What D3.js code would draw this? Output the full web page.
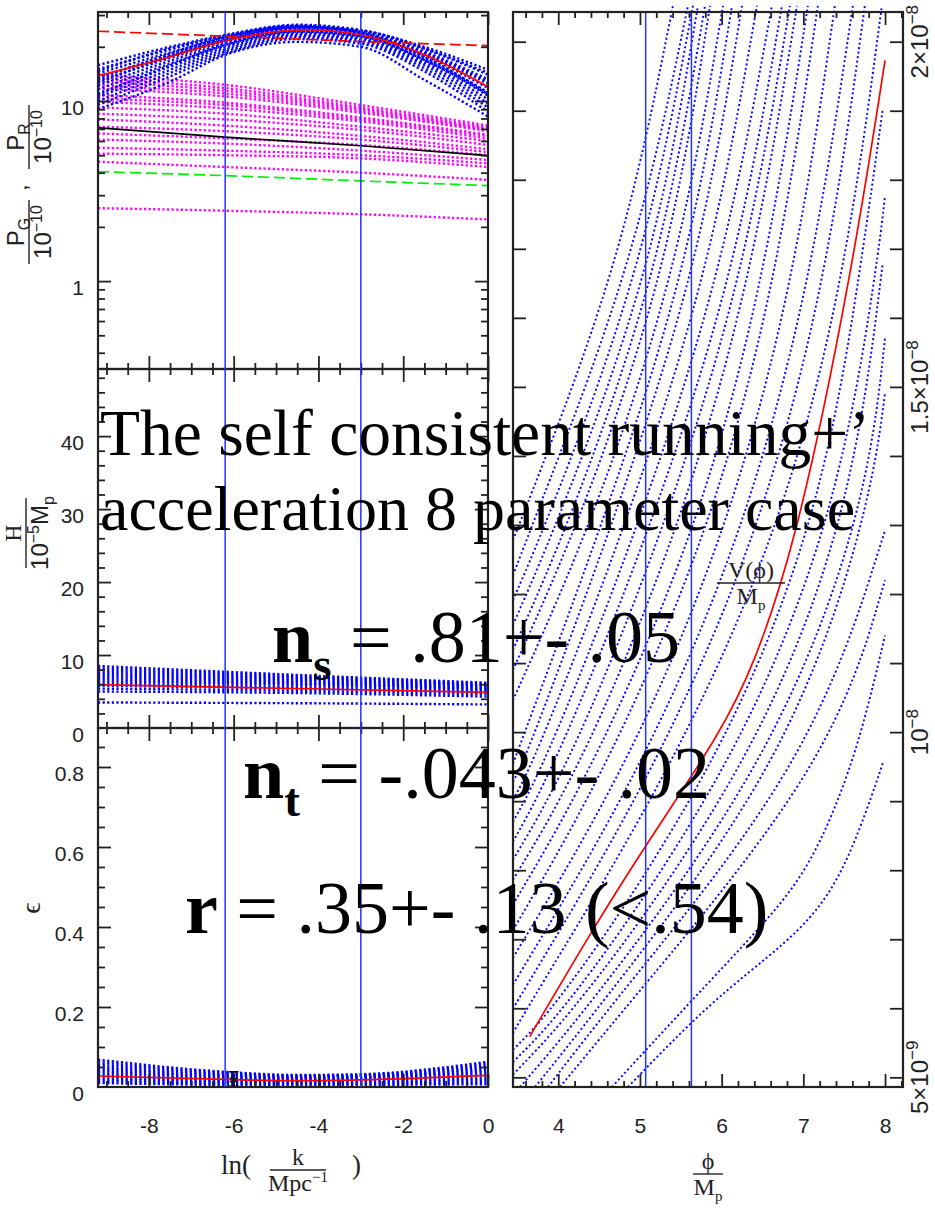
<!DOCTYPE html>
<html>
<head>
<meta charset="utf-8">
<script src="https://cdnjs.cloudflare.com/ajax/libs/d3/7.8.5/d3.min.js"></script>
<style>
  body { margin: 0; background: #fff; }
  svg { display: block; }
  .tick text { font-family: "Liberation Sans", Arial, sans-serif; font-size: 21px; fill: #222; }
</style>
</head>
<body>
<svg id="chart" width="935" height="1213"></svg>
<script>
// ---------------- data ----------------
const kMarks = [-6.2, -3.0];          // vertical lines, left column
const phiMarks = [5.07, 5.63];        // vertical lines, right panel

// top panel, P in units of 1e-10
const kP = [-9.2, -7.5, -6.2, -4.5, -3, -1.5, 0];
const prSamples = [
  [15.8, 20.0, 23.3, 26.5, 24.8, 20.0, 14.9],
  [15.0, 19.3, 22.8, 26.0, 24.5, 19.4, 14.0],
  [14.2, 18.6, 22.3, 25.6, 24.0, 18.8, 13.2],
  [13.5, 18.0, 21.8, 25.2, 23.7, 18.3, 12.5],
  [12.9, 17.3, 21.3, 24.8, 23.3, 17.8, 11.8],
  [12.2, 16.7, 20.8, 24.4, 23.0, 17.2, 11.2],
  [11.6, 16.1, 20.3, 24.0, 22.6, 16.8, 10.7],
  [11.0, 15.5, 19.8, 23.5, 22.2, 16.3, 10.2],
  [10.5, 14.9, 19.3, 23.1, 21.8, 15.8, 9.7],
  [10.0, 14.3, 18.8, 22.6, 21.3, 15.2, 9.2],
  [9.5, 13.7, 18.3, 22.1, 20.8, 14.6, 8.7],
  [9.0, 12.8, 18.0, 21.3, 20.0, 13.1, 8.2],
  [14.6, 19.6, 23.0, 26.2, 24.2, 18.6, 12.8],
  [12.6, 17.7, 21.8, 25.6, 24.6, 19.6, 14.3],
  [13.2, 18.3, 22.6, 25.9, 23.9, 17.6, 11.0],
  [10.8, 15.8, 20.5, 24.3, 22.9, 16.9, 10.9]
];
const kPbest = [-9.2, -7.5, -6.2, -4.3, -3, -1.5, 0];
const prBest = [13.8, 17.6, 21.6, 24.8, 23.3, 18.1, 12.0];
const kG = [-9.2, -6.2, -3, 0];
const pgSamples = [
  [13.9, 12.3, 9.5, 7.3],
  [13.3, 11.8, 9.2, 7.1],
  [12.8, 11.4, 9.0, 7.0],
  [12.2, 11.0, 8.8, 6.9],
  [11.7, 10.6, 8.6, 6.8],
  [10.8, 9.8, 8.1, 6.5],
  [10.3, 9.5, 7.9, 6.4],
  [9.9, 9.1, 7.7, 6.2],
  [9.2, 8.5, 7.2, 6.0],
  [8.5, 7.9, 6.9, 5.7],
  [7.9, 7.3, 6.4, 5.4],
  [7.2, 6.8, 6.1, 5.2],
  [6.6, 6.2, 5.7, 5.0],
  [6.1, 5.8, 5.3, 4.7],
  [5.5, 5.3, 5.0, 4.5],
  [5.1, 5.0, 4.8, 4.3],
  [4.6, 4.3, 4.0, 3.65],
  [2.54, 2.46, 2.35, 2.2]
];
const pgBlack = [7.1, 6.3, 5.64, 4.97];
const pgGreen = [4.05, 3.85, 3.6, 3.39];
const kDash = [-9.2, -6.2, -4.3, -3, 0];
const prDash = [24.4, 22.9, 22.0, 21.4, 20.3];

// middle panel, H in units of 1e-5 Mp
const kH = [-9.2, -4.6, 0];
const hSamples = [
  [8.5, 7.3, 6.2], [8.2, 7.1, 6.05], [7.9, 6.9, 5.9], [7.6, 6.7, 5.8],
  [7.3, 6.5, 5.65], [7.0, 6.3, 5.5], [6.7, 6.1, 5.35], [6.4, 5.9, 5.2],
  [6.1, 5.6, 5.0], [5.8, 5.4, 4.85], [5.4, 5.1, 4.6], [5.0, 4.8, 4.3],
  [3.5, 3.4, 3.23]
];
const hBest = [5.95, 5.41, 4.87];

// bottom panel, epsilon
const kE = [-9.2, -6.2, -4.5, -3, 0];
const epsSamples = [
  [0.068, 0.038, 0.030, 0.032, 0.063],
  [0.062, 0.035, 0.028, 0.030, 0.058],
  [0.056, 0.032, 0.026, 0.028, 0.053],
  [0.050, 0.029, 0.024, 0.026, 0.048],
  [0.045, 0.026, 0.022, 0.024, 0.043],
  [0.040, 0.023, 0.020, 0.022, 0.038],
  [0.035, 0.020, 0.018, 0.020, 0.033],
  [0.030, 0.017, 0.015, 0.017, 0.028],
  [0.025, 0.014, 0.012, 0.014, 0.022],
  [0.020, 0.011, 0.010, 0.011, 0.017],
  [0.015, 0.008, 0.007, 0.008, 0.012],
  [0.010, 0.005, 0.004, 0.005, 0.007]
];
const epsBest = [0.0275, 0.019, 0.016, 0.018, 0.029];
const errPoint = {k: -6, eps: 0.0175, lo: 0.002, hi: 0.038};

// right panel, V(phi) in units of 1e-9, points [phi, V]
const vSamples = [
  [[3.445,12.78],[3.592,13.21],[4.780,16.83],[5.404,20.52]],
  [[3.445,12.27],[3.751,13.21],[4.939,16.83],[5.588,20.52]],
  [[3.445,11.91],[3.923,13.21],[5.061,16.83],[5.649,20.52]],
  [[3.445,11.55],[4.058,13.21],[5.183,16.83],[5.710,20.52]],
  [[3.445,11.19],[4.204,13.21],[5.269,16.83],[5.796,20.52]],
  [[3.445,10.90],[4.327,13.21],[5.367,16.83],[5.857,20.52]],
  [[3.445,10.46],[4.486,13.21],[5.489,16.83],[6.017,20.52]],
  [[3.445,9.54],[4.608,13.21],[5.612,16.83],[6.127,20.52]],
  [[3.445,9.28],[3.592,9.59],[4.731,13.21],[5.734,16.83],[6.249,20.52]],
  [[3.445,9.02],[3.715,9.59],[4.902,13.21],[5.881,16.83],[6.432,20.52]],
  [[3.445,8.70],[3.862,9.59],[5.061,13.21],[6.041,16.83],[6.616,20.52]],
  [[3.445,8.41],[3.996,9.59],[5.220,13.21],[6.200,16.83],[6.738,20.52]],
  [[3.445,8.15],[4.168,9.59],[5.392,13.21],[6.310,16.83],[6.836,20.52]],
  [[3.445,7.86],[4.327,9.59],[5.575,13.21],[6.408,16.83],[6.922,20.52]],
  [[3.445,7.50],[4.486,9.59],[5.796,13.21],[6.567,16.83],[7.056,20.52]],
  [[3.445,7.13],[4.657,9.59],[5.955,13.21],[6.714,16.83],[7.178,20.52]],
  [[3.445,6.73],[4.902,9.59],[6.164,13.21],[6.934,16.83],[7.386,20.52]],
  [[3.445,6.34],[5.098,9.59],[6.371,13.21],[7.141,16.83],[7.606,20.52]],
  [[3.445,5.99],[3.507,6.12],[5.269,9.59],[6.567,13.21],[7.324,16.83],[7.753,20.52]],
  [[3.445,5.64],[3.678,6.12],[5.465,9.59],[6.812,13.21],[7.545,16.83],[7.961,20.52]],
  [[3.445,5.40],[4.058,6.12],[6.004,9.59],[7.227,13.21],[7.716,16.83],[7.973,19.03]],
  [[3.445,5.22],[4.204,6.12],[6.200,9.59],[7.423,13.21],[7.912,16.83],[8.0,17.77]],
  [[3.445,5.04],[4.327,6.12],[6.408,9.59],[7.594,13.21],[7.973,16.80]],
  [[3.531,4.86],[4.449,6.12],[6.616,9.59],[7.765,13.21],[8.0,15.70]],
  [[3.715,4.86],[4.572,6.12],[6.812,9.59],[7.81,13.21],[8.0,14.91]],
  [[3.874,4.86],[4.694,6.12],[7.104,9.59],[8.0,12.92]],
  [[4.021,4.86],[4.902,6.12],[7.349,9.59],[8.0,12.20]],
  [[4.657,4.86],[5.637,6.12],[6.444,7.13],[7.0,7.9],[7.40,8.9],[7.72,10.0],[8.0,11.40]],
  [[4.853,4.86],[5.881,6.12],[6.812,6.95],[7.349,7.65],[7.70,8.6],[7.973,9.55]]
];
const vBest = [[3.65,5.59],[4.49,7.28],[5.06,8.34],[5.79,9.64],[6.28,10.61],[6.90,12.63],[7.60,16.69],[8.0,19.73]];

// tick values
const kMajor = [-8, -6, -4, -2, 0];
const kMinor = d3.range(-9, 0.01, 0.5).filter(d => d % 2 !== 0);
const pMajor = [1, 10];
const pMinor = [0.4, 0.5, 0.6, 0.7, 0.8, 0.9, 2, 3, 4, 5, 6, 7, 8, 9, 20, 30];
const hMajor = [10, 20, 30, 40];
const hMinor = d3.range(2, 49, 2).filter(d => d % 10 !== 0);
const eMajor = [0.2, 0.4, 0.6, 0.8];
const eMinor = [0.05, 0.1, 0.15, 0.25, 0.3, 0.35, 0.45, 0.5, 0.55, 0.65, 0.7, 0.75, 0.85];
const phiMajor = [4, 5, 6, 7, 8];
const phiMinor = d3.range(3.6, 8.21, 0.2).filter(d => Math.abs(d - Math.round(d)) > 0.01);
const vTicks = d3.range(5, 21);
const vLabels = [[5, '5×10', '−9'], [10, '10', '−8'], [15, '1.5×10', '−8'], [20, '2×10', '−8']];

// ---------------- layout ----------------
const svg = d3.select('#chart');
const L = {x0: 98, x1: 488}, R = {x0: 513, x1: 903};
const pTop = {y0: 12, y1: 369}, pMid = {y0: 369, y1: 728}, pBot = {y0: 728, y1: 1087};

const xK = d3.scaleLinear().domain([-9.2, 0]).range([L.x0, L.x1]);
const yP = d3.scaleLog().domain([0.325, 31.2]).range([pTop.y1, pTop.y0]);
const yH = d3.scaleLinear().domain([0, 49.2]).range([pMid.y1, pMid.y0]);
const yE = d3.scaleLinear().domain([0, 0.8975]).range([pBot.y1, pBot.y0]);
const xPhi = d3.scaleLinear().domain([3.446, 8.22]).range([R.x0, R.x1]);
const yV = d3.scaleLinear().domain([4.86, 20.43]).range([pBot.y1, pTop.y0]);

const BLUE = '#0000ff', MAG = '#ff00ff', RED = '#ff0000';

function clip(id, x, y, w, h) {
  svg.append('clipPath').attr('id', id).append('rect')
    .attr('x', x).attr('y', y).attr('width', w).attr('height', h);
  return `url(#${id})`;
}

function frame(xs, ys, xMaj, xMin, yMaj, yMin) {
  const g = svg.append('g').attr('color', '#222');
  const [x0, x1] = xs.range(), [y1, y0] = ys.range();
  const put = (axis, t, vals, size) => g.append('g').attr('transform', t)
    .call(axis.tickValues(vals).tickSize(size).tickFormat(''))
    .call(s => s.select('.domain').remove());
  [[xMaj, 13], [xMin, 6]].forEach(([v, s]) => {
    put(d3.axisTop(xs), `translate(0,${y1})`, v, s);
    put(d3.axisBottom(xs), `translate(0,${y0})`, v, s);
  });
  [[yMaj, 13], [yMin, 7]].forEach(([v, s]) => {
    put(d3.axisRight(ys), `translate(${x0},0)`, v, s);
    put(d3.axisLeft(ys), `translate(${x1},0)`, v, s);
  });
  g.selectAll('.tick line').attr('stroke-width', 1.8);
  g.append('rect').attr('x', x0).attr('y', y0).attr('width', x1 - x0).attr('height', y1 - y0)
    .attr('fill', 'none').attr('stroke', '#222').attr('stroke-width', 2.2);
}

function series(g, grid, rows, ys, style) {
  const line = d3.line().x(d => xK(d[0])).y(d => ys(d[1])).curve(d3.curveMonotoneX);
  g.selectAll(null).data(rows).join('path')
    .attr('d', r => line(grid.map((k, i) => [k, r[i]])))
    .attr('fill', 'none')
    .attr('stroke', style.color)
    .attr('stroke-width', style.width || 1.8)
    .attr('stroke-dasharray', style.dash || null);
}

// ---------------- top panel ----------------
const gTop = svg.append('g').attr('clip-path', clip('cTop', L.x0, pTop.y0, L.x1 - L.x0, pTop.y1 - pTop.y0));
series(gTop, kG, pgSamples, yP, {color: MAG, dash: '2.2,2.4', width: 2.4});
series(gTop, kP, prSamples, yP, {color: BLUE, dash: '2.2,2.4', width: 2.4});
series(gTop, kDash, [prDash], yP, {color: RED, dash: '11,5', width: 1.7});
series(gTop, kG, [pgGreen], yP, {color: '#00ee00', dash: '11,5', width: 1.7});
series(gTop, kG, [pgBlack], yP, {color: '#000', width: 1.6});
series(gTop, kPbest, [prBest], yP, {color: RED, width: 1.8});

// ---------------- middle panel ----------------
const gMid = svg.append('g').attr('clip-path', clip('cMid', L.x0, pMid.y0, L.x1 - L.x0, pMid.y1 - pMid.y0));
series(gMid, kH, hSamples, yH, {color: BLUE, dash: '2.2,2.4', width: 2.4});
series(gMid, kH, [hBest], yH, {color: RED, width: 1.7});

// ---------------- bottom panel ----------------
const gBot = svg.append('g').attr('clip-path', clip('cBot', L.x0, pBot.y0, L.x1 - L.x0, pBot.y1 - pBot.y0));
series(gBot, kE, epsSamples, yE, {color: BLUE, dash: '2.2,2.4', width: 2.4});
series(gBot, kE, [epsBest], yE, {color: RED, width: 1.7});
const ex = xK(errPoint.k);
gBot.append('line').attr('x1', ex).attr('x2', ex).attr('y1', yE(errPoint.lo)).attr('y2', yE(errPoint.hi))
  .attr('stroke', '#000').attr('stroke-width', 1.5);
[errPoint.lo, errPoint.hi].forEach(v => gBot.append('line')
  .attr('x1', ex - 5).attr('x2', ex + 5).attr('y1', yE(v)).attr('y2', yE(v))
  .attr('stroke', '#000').attr('stroke-width', 1.5));
gBot.append('path').attr('d', d3.symbol(d3.symbolAsterisk, 50)())
  .attr('transform', `translate(${ex},${yE(errPoint.eps)})`).attr('fill', 'none')
  .attr('stroke', '#000').attr('stroke-width', 1.6);

frame(xK, yP, kMajor, kMinor, pMajor, pMinor);
frame(xK, yH, kMajor, kMinor, hMajor, hMinor);
frame(xK, yE, kMajor, kMinor, eMajor, eMinor);

svg.append('g').selectAll(null).data(kMarks).join('line')
  .attr('x1', d => xK(d)).attr('x2', d => xK(d)).attr('y1', pTop.y0).attr('y2', pBot.y1)
  .attr('stroke', '#2233ff').attr('stroke-width', 1.5);

// ---------------- right panel ----------------
const gR = svg.append('g').attr('clip-path', clip('cR', R.x0, 5, R.x1 - R.x0, pBot.y1 - 5));
const vLine = d3.line().x(d => xPhi(d[0])).y(d => yV(d[1])).curve(d3.curveBasis);
gR.selectAll(null).data(vSamples).join('path')
  .attr('d', vLine).attr('fill', 'none').attr('stroke', BLUE)
  .attr('stroke-width', 1.9).attr('stroke-dasharray', '2,2.6');
gR.append('path').attr('d', vLine(vBest)).attr('fill', 'none').attr('stroke', RED).attr('stroke-width', 1.7);
gR.selectAll(null).data(phiMarks).join('line')
  .attr('x1', d => xPhi(d)).attr('x2', d => xPhi(d)).attr('y1', pTop.y0).attr('y2', pBot.y1)
  .attr('stroke', '#2233ff').attr('stroke-width', 1.5);
frame(xPhi, yV, phiMajor, phiMinor, vTicks, []);

// ---------------- tick labels ----------------
const noDomain = s => s.select('.domain').remove();
function leftLabels(ys, vals, fmt) {
  svg.append('g').attr('transform', `translate(${L.x0},7)`)
    .call(d3.axisLeft(ys).tickValues(vals).tickSize(0).tickPadding(14).tickFormat(fmt))
    .call(noDomain);
}
leftLabels(yP, pMajor, d => String(d));
leftLabels(yH, [0, 10, 20, 30, 40], d => String(d));
leftLabels(yE, [0, 0.2, 0.4, 0.6, 0.8], d => d === 0 ? '0' : d.toFixed(1));

svg.append('g').attr('transform', `translate(0,${pBot.y1})`)
  .call(d3.axisBottom(xK).tickValues(kMajor).tickSize(0).tickPadding(31).tickFormat(d => String(d)))
  .call(noDomain);
svg.append('g').attr('transform', `translate(0,${pBot.y1})`)
  .call(d3.axisBottom(xPhi).tickValues(phiMajor).tickSize(0).tickPadding(31).tickFormat(d => String(d)))
  .call(noDomain);

const rl = svg.append('g').attr('font-family', '"Liberation Sans", Arial, sans-serif').attr('fill', '#222')
  .selectAll(null).data(vLabels).join('text')
  .attr('transform', d => `translate(928,${yV(d[0])}) rotate(-90)`)
  .attr('text-anchor', 'middle').attr('font-size', 24);
rl.append('tspan').text(d => d[1]);
rl.append('tspan').attr('dy', -10).attr('font-size', 17).text(d => d[2]);

// ---------------- axis titles ----------------
const serif = '"Liberation Serif", "DejaVu Serif", serif';
const sans = '"Liberation Sans", Arial, sans-serif';
const ttl = svg.append('g').attr('fill', '#222');

function frac(g, num, den, w, gap) {
  g.append('line').attr('x1', -w / 2).attr('x2', w / 2).attr('y1', 0).attr('y2', 0)
    .attr('stroke', '#222').attr('stroke-width', 1.4);
  const n = g.append('text').attr('text-anchor', 'middle').attr('y', -5);
  num(n);
  const d = g.append('text').attr('text-anchor', 'middle').attr('y', gap || 20);
  den(d);
}

// ln(k / Mpc^-1)
ttl.append('text').attr('x', 221).attr('y', 1174).attr('font-family', serif).attr('font-size', 27).text('ln(');
const kFrac = ttl.append('g').attr('transform', 'translate(298,1170)').attr('font-family', serif).attr('font-size', 24);
frac(kFrac, t => t.text('k'), t => {
  t.append('tspan').text('Mpc');
  t.append('tspan').attr('dy', -9).attr('font-size', 15).text('−1');
}, 56, 21);
ttl.append('text').attr('x', 352).attr('y', 1174).attr('font-family', serif).attr('font-size', 27).text(')');

// phi / Mp
const pFrac = ttl.append('g').attr('transform', 'translate(708,1174)').attr('font-family', serif).attr('font-size', 24);
frac(pFrac, t => t.text('ϕ'), t => {
  t.append('tspan').text('M');
  t.append('tspan').attr('dy', 6).attr('font-size', 15).text('p');
}, 30, 21);

// V(phi) / Mp inside the right panel
const vFrac = ttl.append('g').attr('transform', 'translate(751,583)').attr('font-family', serif).attr('font-size', 24);
frac(vFrac, t => {
  t.append('tspan').text('V(');
  t.append('tspan').text('ϕ');
  t.append('tspan').text(')');
}, t => {
  t.append('tspan').text('M');
  t.append('tspan').attr('dy', 6).attr('font-size', 15).text('p');
}, 68, 21);

// y titles (rotated)
function yFrac(x, y, num, den, w) {
  const g = ttl.append('g').attr('transform', `translate(${x},${y}) rotate(-90)`).attr('font-family', sans).attr('font-size', 24);
  frac(g, num, den, w, 22);
  return g;
}
const tenM10 = t => { t.append('tspan').text('10'); t.append('tspan').attr('dy', -9).attr('font-size', 16).text('−10'); };
yFrac(29, 137, t => { t.append('tspan').text('P'); t.append('tspan').attr('dy', 6).attr('font-size', 16).text('R'); }, tenM10, 64);
const gG = yFrac(29, 232, t => { t.append('tspan').text('P'); t.append('tspan').attr('dy', 6).attr('font-size', 16).text('G'); }, tenM10, 64);
gG.append('text').attr('x', 41).attr('y', -2).text(',');
yFrac(26, 533, t => t.attr('font-family', serif).text('H'), t => {
  t.append('tspan').text('10');
  t.append('tspan').attr('dy', -9).attr('font-size', 16).text('−5');
  t.append('tspan').attr('dy', 9).text('M');
  t.append('tspan').attr('dy', 6).attr('font-size', 16).text('p');
}, 70);
ttl.append('text').attr('transform', 'translate(40,908) rotate(-90)').attr('text-anchor', 'middle')
  .attr('font-family', serif).attr('font-size', 28).text('ϵ');

// ---------------- overlay text ----------------
const big = svg.append('g').attr('font-family', '"Liberation Serif", "Times New Roman", serif').attr('fill', '#000');
big.append('text').attr('x', 100).attr('y', 455).attr('font-size', 65.5).text('The self consistent running+’');
big.append('text').attr('x', 100).attr('y', 530).attr('font-size', 64).text('acceleration 8 parameter case');
function eq(x, y, sym, sub, rest) {
  const t = big.append('text').attr('x', x).attr('y', y).attr('font-size', 74);
  t.append('tspan').attr('font-weight', 'bold').text(sym);
  if (sub) {
    t.append('tspan').attr('font-weight', 'bold').attr('font-size', 47).attr('dy', 18).text(sub);
    t.append('tspan').attr('dy', -18).text(rest);
  } else {
    t.append('tspan').text(rest);
  }
}
eq(272, 662, 'n', 's', ' = .81+- .05');
eq(243, 798, 'n', 't', ' = -.043+- .02');
eq(185, 933, 'r', null, ' = .35+- .13 (<.54)');
</script>
</body>
</html>
